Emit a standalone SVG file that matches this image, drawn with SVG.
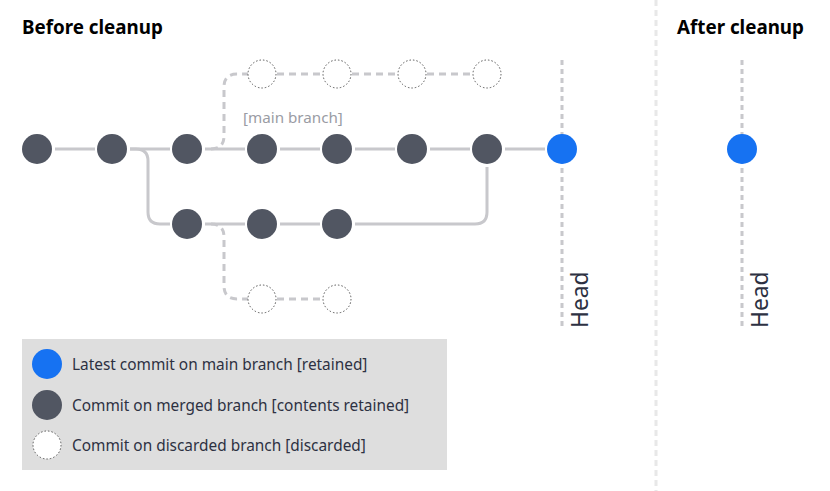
<svg xmlns="http://www.w3.org/2000/svg" width="830" height="491" viewBox="0 0 830 491">
<style>
.title{font-family:"Noto Sans","Open Sans",sans-serif;font-weight:bold;font-size:18.8px;fill:#000}
.lbl{font-family:"Noto Sans","Open Sans",sans-serif;font-size:15.4px;fill:#2d3142}
.note{font-family:"Noto Sans","Open Sans",sans-serif;font-size:15.2px;fill:#9a9ca4}
.head{font-family:"Noto Sans","Open Sans",sans-serif;font-size:22.8px;fill:#2d3142}
.c{fill:#515662}
.b{fill:#1672f2}
.d{fill:#fff;stroke:#555;stroke-width:1;stroke-dasharray:1.5 2}
.ln{fill:none;stroke:#c8c8cc;stroke-width:3}
.dl{fill:none;stroke:#c8c8cc;stroke-width:3;stroke-dasharray:7 5}
.hl{fill:none;stroke:#c8c8cc;stroke-width:3;stroke-dasharray:5 4}
</style>
<rect width="830" height="491" fill="#fff"/>
<line x1="656" y1="0" x2="656" y2="491" stroke="#e8e8e8" stroke-width="3" stroke-dasharray="6 4"/>
<text class="title" x="22" y="34">Before cleanup</text>
<text class="title" x="677" y="34">After cleanup</text>
<g id="connectors">
<path class="ln" d="M55 149H95M130 149H170M205 149H245M280 149H320M355 149H395M430 149H470M505 149H545"/>
<path class="ln" d="M130 149H136Q148 149 148 161V212Q148 224 160 224H170"/>
<path class="ln" d="M205 224H245M280 224H320M355 224H475Q487 224 487 212V167"/>
<path class="dl" d="M211 149Q224 149 224 136V87Q224 74 237 74H248"/>
<path class="dl" d="M277 74H323M352 74H398M427 74H473"/>
<path class="dl" d="M211 224Q224 224 224 237V286Q224 299 237 299H248"/>
<path class="dl" d="M277 299H323"/>
<line class="hl" x1="562" y1="60" x2="562" y2="328"/>
<line class="hl" x1="742" y1="60" x2="742" y2="328"/>
</g>
<text class="note" x="243" y="123">[main branch]</text>
<g id="n1"><circle class="c" cx="37" cy="149" r="15"/></g>
<g id="n2"><circle class="c" cx="112" cy="149" r="15"/></g>
<g id="n3"><circle class="c" cx="187" cy="149" r="15"/></g>
<g id="n4"><circle class="c" cx="262" cy="149" r="15"/></g>
<g id="n5"><circle class="c" cx="337" cy="149" r="15"/></g>
<g id="n6"><circle class="c" cx="412" cy="149" r="15"/></g>
<g id="n7"><circle class="c" cx="487" cy="149" r="15"/></g>
<g id="head1"><circle class="b" cx="562" cy="149" r="15"/><text class="head" transform="translate(588 328) rotate(-90)">Head</text></g>
<g id="m1"><circle class="c" cx="187" cy="224" r="15"/></g>
<g id="m2"><circle class="c" cx="262" cy="224" r="15"/></g>
<g id="m3"><circle class="c" cx="337" cy="224" r="15"/></g>
<g id="t1"><circle class="d" cx="262" cy="74" r="14"/></g>
<g id="t2"><circle class="d" cx="337" cy="74" r="14"/></g>
<g id="t3"><circle class="d" cx="412" cy="74" r="14"/></g>
<g id="t4"><circle class="d" cx="487" cy="74" r="14"/></g>
<g id="u1"><circle class="d" cx="262" cy="299" r="14"/></g>
<g id="u2"><circle class="d" cx="337" cy="299" r="14"/></g>
<g id="head2"><circle class="b" cx="742" cy="149" r="15"/><text class="head" transform="translate(768 328) rotate(-90)">Head</text></g>
<g id="legend">
<rect x="22" y="339" width="425" height="131" fill="#dedede"/>
<circle class="b" cx="47" cy="364" r="15"/>
<text class="lbl" x="72" y="369.5">Latest commit on main branch [retained]</text>
<circle class="c" cx="47" cy="405" r="15"/>
<text class="lbl" x="72" y="410.5">Commit on merged branch [contents retained]</text>
<circle class="d" cx="47" cy="445" r="14"/>
<text class="lbl" x="72" y="450.5">Commit on discarded branch [discarded]</text>
</g>
</svg>
